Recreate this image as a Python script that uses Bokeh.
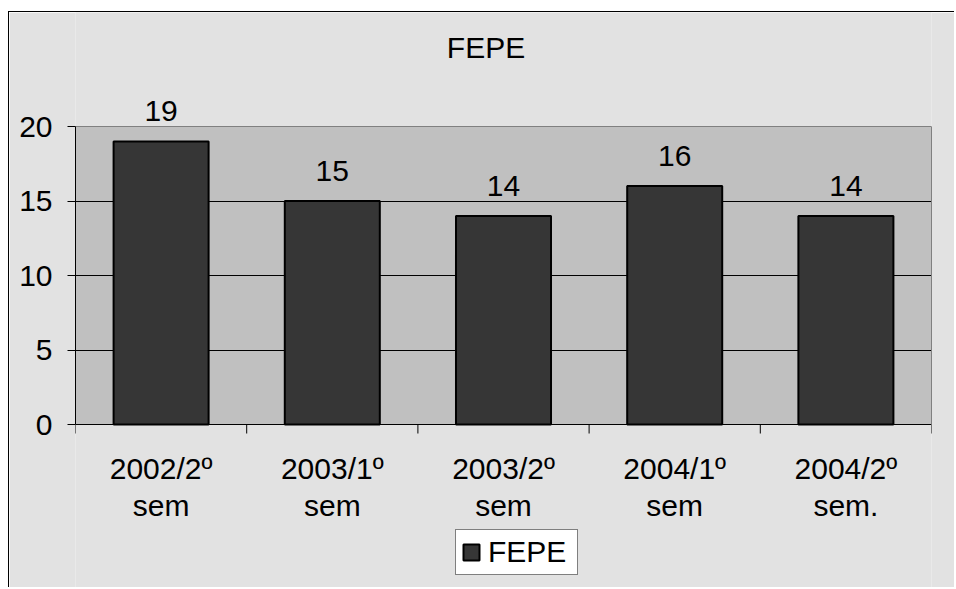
import math
from bokeh.plotting import figure
from bokeh.models import (Range1d, FixedTicker, LabelSet, ColumnDataSource,
                          Legend, LegendItem, Label, BoxAnnotation, Span, LinearAxis)
from bokeh.core.properties import value
from bokeh.embed import file_html
from bokeh.resources import INLINE

# ---- data ----
categories = ["2002/2º\nsem", "2003/1º\nsem", "2003/2º\nsem", "2004/1º\nsem", "2004/2º\nsem."]
values = [19, 15, 14, 16, 14]
series_name = "FEPE"
title_text = "FEPE"
y_ticks = [0, 5, 10, 15, 20]

FONT = "Liberation Sans"
FS = "30px"
MARBLE = "#e2e2e2"
PLOT_GRAY = "#c0c0c0"

n = len(categories)
centers = [i + 0.5 for i in range(n)]
bounds = list(range(n + 1))
line1 = [c.split("\n")[0] for c in categories]
line2 = [c.split("\n")[1] for c in categories]
src = ColumnDataSource(dict(x=centers, top=values, label=[str(v) for v in values],
                            l1=line1, l2=line2, zero=[0] * n))

# frame spans the whole height; the plot area (0..20) sits 114..412 px from the top
H = 576
y_top = y_ticks[-1] * 412 / 298
y_bot = -y_ticks[-1] * (H - 412) / 298

p = figure(width=946, height=H, output_backend="svg", toolbar_location=None,
           x_range=Range1d(0, n), y_range=Range1d(y_bot, y_top),
           x_axis_location=None,
           min_border_left=66, min_border_right=24, min_border_top=0, min_border_bottom=0,
           title=None)
p.styles = {"margin-left": "8px", "margin-top": "11px",
            "border-top": "1px solid black", "border-left": "1px solid black"}

p.background_fill_color = MARBLE
p.border_fill_color = MARBLE
p.outline_line_color = None

# grey plot area, drawn beneath the grid lines
plot_area = BoxAnnotation(left=0, right=n, bottom=y_ticks[0], top=y_ticks[-1],
                          fill_color=PLOT_GRAY, fill_alpha=1.0,
                          line_color=None, level="underlay")
p.center.insert(0, plot_area)
p.add_layout(Span(location=y_ticks[-1], dimension="width", line_color="#808080",
                  line_width=1, level="underlay"))

# grid
p.xgrid.visible = False
p.ygrid.ticker = FixedTicker(ticks=y_ticks[1:-1])
p.ygrid.grid_line_color = "black"
p.ygrid.grid_line_width = 1

r = p.vbar(x="x", top="top", width=0.555, bottom=0, source=src,
           fill_color="#363636", line_color="black", line_width=2)

# x axis line and category-boundary ticks
p.add_layout(Span(location=y_ticks[0], dimension="width", line_color="black", line_width=1))
p.ray(x=bounds, y=[y_ticks[0]] * len(bounds), length=9, length_units="screen",
      angle=-math.pi / 2, line_color="black", line_width=1)

# y axis
ya = p.yaxis[0]
ya.ticker = FixedTicker(ticks=y_ticks)
ya.bounds = (y_ticks[0], y_ticks[-1])
ya.minor_tick_line_color = None
ya.major_tick_out = 8
ya.major_tick_in = 0
ya.major_tick_line_color = "black"
ya.axis_line_color = "black"
ya.major_label_text_font = FONT
ya.major_label_text_font_size = FS
ya.major_label_text_color = "black"
ya.major_label_standoff = 15

# right edge of the plot area
ra = LinearAxis(bounds=(y_ticks[0], y_ticks[-1]), ticker=FixedTicker(ticks=y_ticks),
                axis_line_color="#808080", major_tick_line_color=None,
                minor_tick_line_color=None, major_label_text_color=None,
                major_label_text_font_size="1px",
                major_label_standoff=0, major_tick_out=0, major_tick_in=0)
p.add_layout(ra, "right")

# category labels (two lines)
p.add_layout(LabelSet(x="x", y="zero", text="l1", source=src, y_offset=-54,
                      text_align="center", text_baseline="alphabetic",
                      text_font=value(FONT), text_font_size=value(FS), text_color="black"))
p.add_layout(LabelSet(x="x", y="zero", text="l2", source=src, y_offset=-91,
                      text_align="center", text_baseline="alphabetic",
                      text_font=value(FONT), text_font_size=value(FS), text_color="black"))

# value labels
p.add_layout(LabelSet(x="x", y="top", text="label", source=src, y_offset=20,
                      text_align="center", text_baseline="alphabetic",
                      text_font=value(FONT), text_font_size=value(FS), text_color="black"))

# title
p.add_layout(Label(x=2.398, y=25.3, text=title_text, text_align="center",
                   text_baseline="alphabetic", text_font=FONT,
                   text_font_size=FS, text_color="black"))

# legend
legend = Legend(items=[LegendItem(label=series_name, renderers=[r])],
                location=(380, 13), orientation="vertical",
                label_text_font=FONT, label_text_font_size=FS,
                label_text_color="black", border_line_color="black",
                border_line_width=1, background_fill_color="white",
                background_fill_alpha=1.0, glyph_width=20, glyph_height=20,
                padding=5, spacing=0, label_standoff=7, label_width=84, margin=0)
p.add_layout(legend)

open("out.html", "w").write(file_html(p, INLINE))
